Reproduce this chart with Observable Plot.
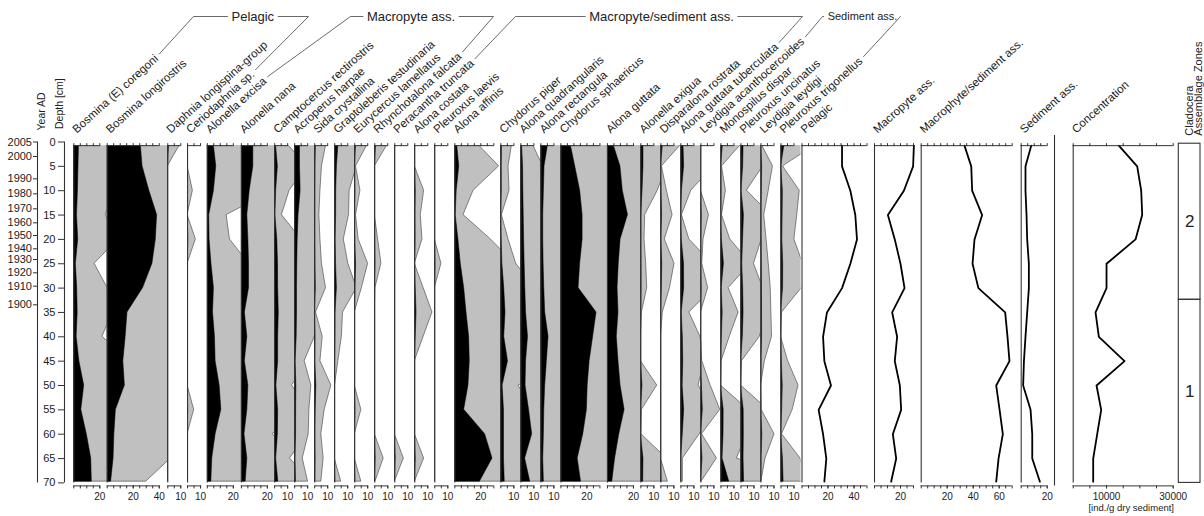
<!DOCTYPE html>
<html>
<head>
<meta charset="utf-8">
<script src="https://cdn.jsdelivr.net/npm/d3@7"></script>
<script src="https://cdn.jsdelivr.net/npm/@observablehq/plot@0.6"></script>
<style>
  html, body { margin: 0; padding: 0; background: #fff; }
  #chart { position: relative; width: 1204px; height: 516px; overflow: hidden; }
  #chart svg { position: absolute; left: 0; top: 0; }
</style>
</head>
<body>
<div id="chart"></div>
<script>
// ---- Sample depths (cm) ----
const depths = [0.75, 5, 10, 15, 20, 25, 30, 35, 40, 45, 50, 55, 60, 65, 69.75];

// ---- Taxa, relative abundance (%) per sample ----
const bosminaCoregoni        = [4.0, 3.6, 3.2, 2.45, 3.4, 1.6, 2.6, 3.0, 2.2, 4.3, 8.0, 5.8, 10.0, 13.4, 13.9];
const bosminaLongirostris    = [25.9, 27.2, 32.4, 38.4, 37.4, 34.8, 27.6, 15.6, 14.2, 12.4, 13.6, 6.7, 5.5, 4.9, 3.0];
const daphniaLongispina      = [0.92, 0, 0, 0, 0, 0, 0, 0, 0, 0, 0, 0, 0, 0, 0];
const ceriodaphnia           = [0, 0, 0.41, 0, 0.64, 0, 0, 0, 0, 0, 0, 0.51, 0, 0, 0];
const alonellaExcisa         = [5.1, 6.9, 5.1, 1.49, 1.74, 3.2, 5.1, 4.4, 5.9, 6.4, 9.5, 10.8, 6.4, 3.8, 3.1];
const alonellaNana           = [9.2, 9.2, 6.4, 4.6, 5.4, 5.9, 5.9, 2.7, 4.6, 2.7, 5.4, 4.6, 2.4, 4.6, 3.3];
const camptocercus           = [1.08, 2.5, 1.15, 0.56, 2.04, 2.6, 2.7, 3.2, 2.7, 2.7, 1.33, 2.7, 2.5, 1.18, 2.8];
const acroperusHarpae        = [4.1, 4.1, 4.6, 3.0, 2.3, 2.0, 1.8, 1.8, 1.55, 0.77, 1.28, 1.13, 1.08, 0.62, 1.03];
const sidaCrystallina        = [0.87, 0.56, 0.44, 0.36, 0.44, 0.56, 0.87, 0.1, 0.62, 0.44, 1.28, 0.77, 0.51, 0.69, 0.51];
const graptoleberis          = [2.8, 1.7, 1.15, 1.1, 0.7, 1.05, 1.7, 0.64, 0.55, 0.28, 0.02, 0, 0, 0, 0.5];
const eurycercus             = [0.95, 0.1, 0.44, 0.1, 0.3, 1.03, 0.55, 0, 0, 0, 0, 0.51, 0, 0, 0.51];
const rhynchotalona          = [0.95, 0, 0, 0, 0.26, 0.51, 0.05, 0, 0, 0, 0, 0, 0, 0.69, 0.05];
const peracantha             = [0, 0, 0, 0, 0, 0, 0, 0, 0, 0, 0, 0, 0, 0.7, 0];
const alonaCostata           = [0, 0, 0.72, 0.46, 0.59, 0, 0.68, 1.36, 0.68, 0, 0, 0, 0, 0.72, 0];
const pleuroxusLaevis        = [0, 0, 0, 0, 0, 0.51, 0, 0, 0, 0, 0, 0, 0, 0, 0];
const alonaAffinis           = [1.87, 3.41, 1.44, 0.67, 2.77, 4.6, 7.2, 9.0, 11.0, 11.5, 10.5, 7.2, 23.3, 29.0, 19.3];
const chydorusPiger          = [0.85, 0.59, 0.67, 0.08, 0.59, 1.18, 2.6, 3.6, 2.6, 5.5, 1.36, 2.4, 2.4, 2.4, 3.0];
const alonaQuadrangularis    = [0.97, 1.7, 1.9, 2.2, 2.5, 2.9, 3.4, 4.0, 5.5, 4.0, 3.6, 6.3, 8.7, 3.3, 7.2];
const alonaRectangula        = [5.4, 2.8, 2.3, 1.8, 1.8, 2.1, 2.6, 3.3, 5.9, 4.6, 3.3, 2.6, 2.3, 1.8, 2.3];
const chydorusSphaericus     = [7.7, 11.0, 14.8, 16.7, 16.7, 14.8, 13.6, 27.4, 24.8, 22.1, 20.6, 20.0, 17.2, 12.9, 15.5];
const alonaGuttata           = [4.9, 10.0, 11.8, 15.8, 10.1, 8.7, 7.8, 8.5, 7.2, 8.5, 10.1, 13.2, 9.1, 5.9, 3.7];
const alonellaExigua         = [2.0, 2.0, 1.3, 0.33, 0.28, 0.41, 0.49, 0.08, 0, 0, 1.26, 0.08, 0.03, 2.0, 1.8];
const disparalonaRostrata    = [1.5, 0.08, 0.46, 0.9, 0.3, 1.05, 0.7, 0.15, 0, 0, 0, 0, 0, 0, 0.54];
const alonaGuttataTuberc     = [2.0, 2.5, 0.8, 0.08, 0.65, 2.4, 2.5, 0.65, 1.5, 1.8, 1.36, 2.5, 1.45, 0.15, 0.15];
const leydigiaAcanthoc       = [0, 0, 0, 0.62, 0.2, 0.1, 0.56, 0, 0, 0.1, 0.75, 1.49, 0.08, 1.23, 0.05];
const monospilusDispar       = [1.49, 0.08, 0.38, 0.08, 0.72, 2.3, 0.59, 1.36, 0.68, 0.05, 0, 2.1, 2.0, 1.23, 6.4];
const pleuroxusUncinatus     = [2.0, 1.7, 0.46, 2.3, 1.6, 1.0, 1.7, 2.0, 1.45, 0.08, 0, 2.1, 2.2, 2.0, 2.4];
const leydigiaLeydigi        = [0.1, 0.92, 0.6, 0.25, 0.43, 0.6, 0.75, 0.8, 0.85, 0.3, 0, 0.05, 1.04, 0.35, 0.03];
const pleuroxusTrigonellus   = [2.6, 0.15, 1.44, 1.25, 1.03, 1.7, 1.6, 0.08, 0, 0.55, 1.35, 0.9, 0.08, 1.5, 2.0];

const taxonNames = [
  "Bosmina (E) coregoni", "Bosmina longirostris", "Daphnia longispina-group", "Ceriodaphnia sp.",
  "Alonella excisa", "Alonella nana", "Camptocercus rectirostris", "Acroperus harpae", "Sida crystallina",
  "Graptoleberis testudinaria", "Eurycercus lamellatus", "Rhynchotalona falcata",
  "Peracantha truncata", "Alona costata", "Pleuroxus laevis", "Alona affinis", "Chydorus piger",
  "Alona quadrangularis", "Alona rectangula", "Chydorus sphaericus", "Alona guttata", "Alonella exigua",
  "Disparalona rostrata", "Alona guttata tuberculata",
  "Leydigia acanthocercoides", "Monospilus dispar", "Pleuroxus uncinatus", "Leydigia leydigi", "Pleuroxus trigonellus"
];
const taxonValues = [
  bosminaCoregoni, bosminaLongirostris, daphniaLongispina, ceriodaphnia,
  alonellaExcisa, alonellaNana, camptocercus, acroperusHarpae, sidaCrystallina,
  graptoleberis, eurycercus, rhynchotalona,
  peracantha, alonaCostata, pleuroxusLaevis, alonaAffinis, chydorusPiger,
  alonaQuadrangularis, alonaRectangula, chydorusSphaericus, alonaGuttata, alonellaExigua,
  disparalonaRostrata, alonaGuttataTuberc,
  leydigiaAcanthoc, monospilusDispar, pleuroxusUncinatus, leydigiaLeydigi, pleuroxusTrigonellus
];

// ---- Ecological group sums (%) and total concentration ----
const pelagicSum        = [30.8, 30.8, 37.2, 41.0, 42.3, 37.2, 30.8, 19.2, 16.2, 17.2, 22.3, 12.8, 16.2, 18.7, 17.2];
const macrophyteSum     = [30.3, 29.7, 22.6, 10.3, 15.6, 20.0, 23.1, 13.6, 17.4, 15.6, 19.5, 20.5, 14.1, 16.7, 12.8];
const macroSedimentSum  = [33.3, 38.5, 39.2, 46.9, 41.0, 39.5, 44.0, 64.6, 66.4, 67.9, 57.7, 60.3, 62.8, 59.5, 57.7];
const sedimentSum       = [7.7, 3.3, 3.3, 4.1, 4.6, 5.9, 5.9, 4.6, 3.3, 2.1, 1.5, 7.2, 8.5, 8.5, 14.4];
const concentration     = [13700, 19200, 20400, 20700, 18700, 10000, 10000, 6700, 7700, 15400, 7000, 8400, 7200, 6000, 6000];
const summaryNames  = ["Pelagic", "Macropyte ass.", "Macrophyte/sediment ass.", "Sediment ass."];
const summaryValues = [pelagicSum, macrophyteSum, macroSedimentSum, sedimentSum];

// ---- Age model ticks and zones ----
const yearLabels = [2005, 2000, 1990, 1980, 1970, 1960, 1950, 1940, 1930, 1920, 1910, 1900];
const yearDepths = [0, 2.98, 7.56, 10.64, 13.72, 16.6, 19.2, 21.93, 24.13, 26.86, 29.61, 33.43];
const depthTicks = [0, 5, 10, 15, 20, 25, 30, 35, 40, 45, 50, 55, 60, 65, 70];
const zoneNames = ["2", "1"];
const zoneTops = [0.35, 32.4];
const zoneBottoms = [32.4, 70];

const groupTitles = ["Pelagic", "Macropyte ass.", "Macropyte/sediment ass.", "Sediment ass."];
const groupSpans = [[0, 3], [4, 11], [12, 23], [24, 28]];

// ---- Layout ----
const W = 1204, H = 516;
const FONT = '"Liberation Sans", Arial, Helvetica, sans-serif';
const INK = "#222", LINE = "#333";
const Y0 = 141.5, PX_PER_CM = 4.87, MAX_DEPTH = 70;
const Y70 = Y0 + MAX_DEPTH * PX_PER_CM;
const frameTop = Y0 + depths[0] * PX_PER_CM;
const frameBottom = Y70 + 3;
const PX_PER_PCT = 1.3;
const EXAG = 10;
const LABEL = {dx: 3, dy: -12, angle: 42, size: 11.5};
const firstPanelLeft = 73.3;
const panelMax = [25.7, 46.6, 15.2, 15.2, 26.2, 25.6, 15.4, 15.4, 15.4, 15.4, 15.4, 15.4, 15.4, 15.4, 15.4,
                  35.4, 15.4, 15.4, 15.4, 35.8, 25.7, 15.4, 15.4, 15.4, 15.4, 15.4, 15.4, 15.4, 15.4];
const summaryLefts = [801.5, 874, 920.7, 1020.7];
const summaryMax = [51.2, 31.5, 71.8, 20.5];
const spacerLeft = 1054;
const concLeft = 1072.7, concRight = 1172.7, concMax = 30000;
const zoneLeft = 1178.3, zoneRight = 1200;
const HEAD_Y = 16;
const groupHeads = [
  {x1: 193, x2: 308, cx: 252.3, size: 13},
  {x1: 350, x2: 493, cx: 410.5, size: 13},
  {x1: 515, x2: 802, cx: 661, size: 13},
  {x1: 822, x2: 900, cx: 862, size: 11}
];

const chart = document.getElementById("chart");
const baseStyle = {background: "transparent", fontFamily: FONT, color: INK, overflow: "visible"};

function add(svg) { chart.appendChild(svg); return svg; }

// Frame of a depth panel whose x frame spans [left, right]
function depthPlot(left, right, xDomain, marks, extra = {}) {
  return add(Plot.plot({
    width: W, height: H,
    marginLeft: left, marginRight: W - right,
    marginTop: frameTop, marginBottom: H - frameBottom,
    x: {domain: xDomain, axis: null},
    y: {domain: [0, MAX_DEPTH], range: [Y0, Y70], axis: null},
    style: baseStyle,
    marks,
    ...extra
  }));
}

// Panel furniture: zero line, top and bottom axes, rotated header
function furniture(name, axisMax, step, major, fmt = d => String(d)) {
  const minor = d3.range(0, axisMax + step / 2, step);
  return [
    Plot.ruleX([0], {y1: depths[0], y2: MAX_DEPTH, stroke: LINE, strokeWidth: 1.1}),
    Plot.ruleY([depths[0]], {x1: 0, x2: axisMax, stroke: LINE, strokeWidth: 1}),
    Plot.axisX({anchor: "top", ticks: minor, tickSize: 3, tickFormat: () => "", label: null, stroke: LINE}),
    Plot.ruleY([MAX_DEPTH], {x1: 0, x2: axisMax, dy: 3, stroke: LINE, strokeWidth: 1}),
    Plot.axisX({anchor: "bottom", ticks: minor, tickSize: 3, tickFormat: () => "", label: null, stroke: LINE}),
    Plot.axisX({anchor: "bottom", ticks: major, tickSize: 3, tickPadding: 4, tickFormat: fmt, label: null,
                fontSize: 10, stroke: LINE, fill: INK}),
    Plot.text([name], {text: d => d, frameAnchor: "top-left", dx: LABEL.dx, dy: LABEL.dy, rotate: -LABEL.angle,
                       textAnchor: "start", lineAnchor: "bottom", fontSize: LABEL.size, fill: INK})
  ];
}

function rowsOf(values) { return depths.map((d, i) => ({depth: d, value: values[i]})); }
function majorTicks(axisMax) {
  const s = axisMax >= 20 ? 20 : 10;
  return d3.range(s, axisMax + 0.01, s);
}

// ---- Taxon panels: exaggerated (x10) silhouette in grey, true value in black ----
const panelLefts = [];
let cursor = firstPanelLeft;
taxonNames.forEach((name, i) => {
  const left = cursor, right = left + panelMax[i] * PX_PER_PCT;
  panelLefts.push(left);
  cursor = right;
  const axisMax = Math.floor(panelMax[i] / 10) * 10;
  const rows = rowsOf(taxonValues[i]);
  depthPlot(left, right, [0, panelMax[i]], [
    Plot.areaX(rows, {y: "depth", x: d => d.value * EXAG, fill: "#c0c0c0", stroke: "#3c3c3c",
                      strokeWidth: 0.6, clip: true}),
    Plot.areaX(rows, {y: "depth", x: "value", fill: "#000", stroke: "#000", strokeWidth: 0.5, clip: true}),
    ...furniture(name, axisMax, 5, majorTicks(axisMax))
  ]);
});

// ---- Group sum curves ----
summaryNames.forEach((name, i) => {
  const left = summaryLefts[i], right = left + summaryMax[i] * PX_PER_PCT;
  const axisMax = Math.floor(summaryMax[i] / 10) * 10;
  depthPlot(left, right, [0, summaryMax[i]], [
    Plot.line(rowsOf(summaryValues[i]), {x: "value", y: "depth", stroke: "#000", strokeWidth: 1.8}),
    ...furniture(name, axisMax, 5, majorTicks(axisMax))
  ]);
});

// Empty spacer column
add(Plot.plot({
  width: W, height: H, marginLeft: spacerLeft, marginRight: W - spacerLeft - 2,
  marginTop: 135, marginBottom: H - frameBottom,
  x: {domain: [0, 1], axis: null}, y: {domain: [0, MAX_DEPTH], range: [Y0, Y70], axis: null},
  style: baseStyle,
  marks: [Plot.ruleX([0], {stroke: LINE, strokeWidth: 1.1})]
}));

// ---- Concentration ----
depthPlot(concLeft, concRight, [0, concMax], [
  Plot.line(rowsOf(concentration), {x: "value", y: "depth", stroke: "#000", strokeWidth: 1.8}),
  ...furniture("Concentration", concMax, 5000, [10000, 30000]),
  Plot.text(["[ind./g dry sediment]"], {text: d => d, frameAnchor: "bottom", dx: 8, dy: 25,
                                         fontSize: 9.5, fill: INK})
]);

// ---- Zones ----
const zones = zoneNames.map((z, i) => ({zone: z, top: zoneTops[i], bottom: zoneBottoms[i]}));
add(Plot.plot({
  width: W, height: H, marginLeft: zoneLeft, marginRight: W - zoneRight,
  marginTop: Y0 + zoneTops[0] * PX_PER_CM, marginBottom: H - Y70,
  x: {domain: [0, 1], axis: null}, y: {domain: [0, MAX_DEPTH], range: [Y0, Y70], axis: null},
  style: baseStyle,
  marks: [
    Plot.rect(zones, {x1: 0, x2: 1, y1: "top", y2: "bottom", fill: "none", stroke: LINE, strokeWidth: 1.1}),
    Plot.text(zones, {x: 0.5, y: d => (d.top + d.bottom) / 2, text: "zone", fontSize: 17, fill: INK}),
    Plot.text(["Cladocera"], {text: d => d, frameAnchor: "top-left", dx: 5.9, dy: -8, rotate: -90,
                              textAnchor: "start", fontSize: 11, fill: INK}),
    Plot.text(["Assemblage Zones"], {text: d => d, frameAnchor: "top-left", dx: 15.3, dy: -8, rotate: -90,
                                     textAnchor: "start", fontSize: 11, fill: INK})
  ]
}));

// ---- Depth and age axes ----
function verticalAxis(left, ticks, fmt, size, pad, title, tdx, tdy) {
  add(Plot.plot({
    width: W, height: H, marginLeft: left, marginRight: W - left - 2,
    marginTop: Y0, marginBottom: H - Y70,
    x: {domain: [0, 1], axis: null}, y: {domain: [0, MAX_DEPTH], range: [Y0, Y70], axis: null},
    style: baseStyle,
    marks: [
      Plot.ruleX([0], {y1: 0, y2: MAX_DEPTH, stroke: LINE, strokeWidth: 1.1}),
      Plot.axisY({anchor: "left", ticks, tickFormat: fmt, tickSize: size, tickPadding: pad, label: null,
                  fontSize: 11, stroke: LINE, fill: INK}),
      Plot.text([title], {text: d => d, frameAnchor: "top-left", dx: tdx, dy: tdy, rotate: -90,
                          textAnchor: "start", fontSize: 10.5, fill: INK})
    ]
  }));
}
const yearAt = new Map(yearDepths.map((d, i) => [d, String(yearLabels[i])]));
verticalAxis(37, yearDepths, d => yearAt.get(d), 4, 1.5, "Year AD", 0.5, -11.5);
verticalAxis(64, depthTicks, d => String(d), 6, 3, "Depth [cm]", -9, -13);

// ---- Group brackets over the taxon headers ----
const ctx = document.createElement("canvas").getContext("2d");
function textWidth(s, size) { ctx.font = `${size}px ${FONT}`; return ctx.measureText(s).width; }
function labelEnd(i) {
  const a = LABEL.angle * Math.PI / 180;
  const ax = panelLefts[i] + LABEL.dx, ay = frameTop + LABEL.dy;
  const t = textWidth(taxonNames[i], LABEL.size) + 4;
  const up = 0.35 * LABEL.size;
  return [ax + t * Math.cos(a) - up * Math.sin(a), ay - t * Math.sin(a) - up * Math.cos(a)];
}
const bracketPts = [];
const titleMarks = [];
groupTitles.forEach((title, g) => {
  const head = groupHeads[g];
  const [first, last] = groupSpans[g];
  const tw = textWidth(title, head.size);
  const tl = head.cx - tw / 2 - 4, tr = head.cx + tw / 2 + 4;
  const leftSeg = [labelEnd(first), [head.x1, HEAD_Y]];
  if (tl > head.x1) leftSeg.push([tl, HEAD_Y]);
  const rightSeg = [];
  if (tr < head.x2) rightSeg.push([tr, HEAD_Y]);
  rightSeg.push([head.x2, HEAD_Y], labelEnd(last));
  leftSeg.forEach(([x, y]) => bracketPts.push({seg: g + "L", x, y}));
  rightSeg.forEach(([x, y]) => bracketPts.push({seg: g + "R", x, y}));
  titleMarks.push(Plot.text([title], {text: d => d, x: head.cx, y: HEAD_Y, fontSize: head.size, fill: INK}));
});
add(Plot.plot({
  width: W, height: H, margin: 0,
  x: {domain: [0, W], range: [0, W], axis: null},
  y: {domain: [0, H], range: [0, H], axis: null},
  style: baseStyle,
  marks: [
    Plot.line(bracketPts, {x: "x", y: "y", z: "seg", stroke: "#444", strokeWidth: 0.8}),
    ...titleMarks
  ]
}));
</script>
</body>
</html>
